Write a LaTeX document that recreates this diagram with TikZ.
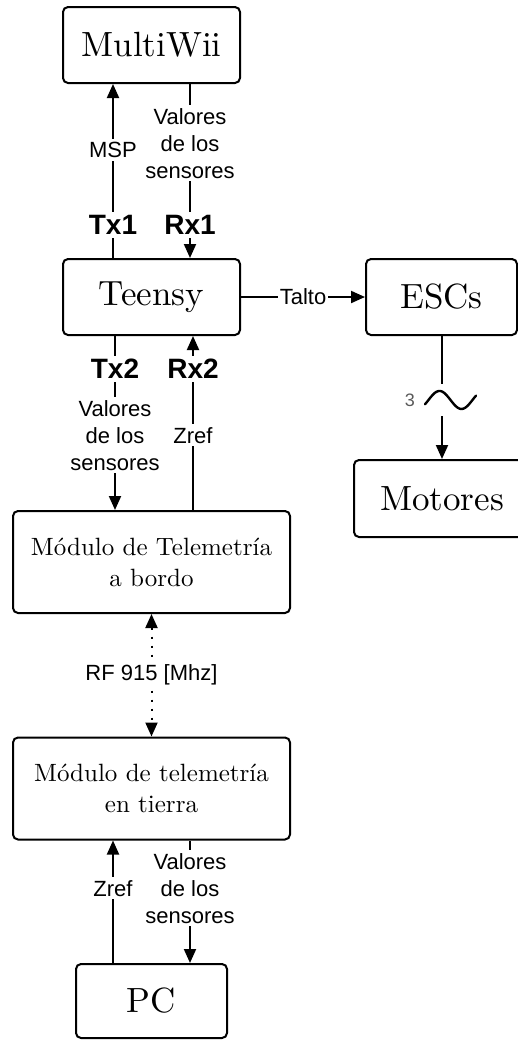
\documentclass[tikz,border=0pt]{standalone}
\usepackage{fontspec}
\setsansfont{Liberation Sans}
\newfontfamily\blockfont{lmroman10-regular}[Extension=.otf]
\usetikzlibrary{arrows.meta, positioning}

\tikzset{
    block/.style={draw, line width=1pt, rounded corners=2.5pt, fill=white,
        font=\blockfont\fontsize{17.5}{20}\selectfont, minimum width=88.5pt,
        minimum height=38pt, inner sep=2pt},
    wideblock/.style={block, font=\blockfont\fontsize{12.5}{15.5}\selectfont, align=center,
        minimum width=138.5pt, minimum height=51pt},
    link/.style={line width=1pt, -{Triangle[length=7pt,width=6pt]}},
    radio/.style={line width=1pt, dash pattern=on 1pt off 3.5pt,
        {Triangle[length=7pt,width=6pt]}-{Triangle[length=7pt,width=6pt]}},
    lbl/.style={fill=white, font=\sffamily\fontsize{11}{13.5}\selectfont,
        align=center, inner sep=1.5pt},
    portlbl/.style={fill=white, font=\sffamily\bfseries\fontsize{14}{16}\selectfont,
        inner sep=1.5pt},
}

\begin{document}
\begin{tikzpicture}[x=0.5pt, y=-0.5pt]

    \useasboundingbox (0,0) rectangle (518,1040);

    % === Blocks ===
    \node[block] (multiwii) at (151.5,45) {MultiWii};
    \node[block] (teensy) at (151.5,297) {Teensy};
    \node[block, minimum width=75.5pt] (escs) at (441.5,297) {ESCs};
    \node[block, minimum width=88pt, minimum height=38.5pt] (motores) at (442,498.5) {Motores};
    \node[wideblock] (abordo) at (151.5,562) {Módulo de Telemetría\\a bordo};
    \node[wideblock] (tierra) at (151.5,788.5) {Módulo de telemetría\\en tierra};
    \node[block, minimum width=75.5pt, minimum height=37pt] (pc) at (151.5,1001) {PC};

    % === MultiWii <-> Teensy ===
    \draw[link] ([xshift=-19.25pt]teensy.north) --
        node[portlbl, pos=0.19] {Tx1}
        node[lbl, pos=0.62] {MSP} ([xshift=-19.25pt]multiwii.south);
    \draw[link] ([xshift=19.25pt]multiwii.south) --
        node[lbl, pos=0.34] {Valores\\de los\\sensores}
        node[portlbl, pos=0.81] {Rx1} ([xshift=19.25pt]teensy.north);

    % === Teensy <-> modulo a bordo ===
    \draw[link] ([xshift=-18.25pt]teensy.south) --
        node[portlbl, pos=0.19] {Tx2}
        node[lbl, pos=0.57] {Valores\\de los\\sensores} ([xshift=-18.25pt]abordo.north);
    \draw[link] ([xshift=20.75pt]abordo.north) --
        node[lbl, pos=0.43] {Zref}
        node[portlbl, pos=0.81] {Rx2} ([xshift=20.75pt]teensy.south);

    % === Teensy -> ESCs -> Motores ===
    \draw[link] (teensy) -- node[lbl, inner sep=1pt] {Talto} (escs);
    \draw[link] (escs.south -| motores.north) --
        node[fill=white, inner sep=0pt, minimum width=4pt, minimum height=16pt, pos=0.52] (ac) {}
        (motores.north);
    % three-phase sign
    \node[font=\sffamily\fontsize{9}{9}\selectfont, text=black!65] at ([xshift=-16pt]ac.center) {3};
    \begin{scope}[shift={(ac.center)}, x=1pt, y=1pt]
        \draw[line width=1.2pt, line cap=round] plot[domain=-0.16:2.16, samples=60, smooth]
            ({4.25+(\x-1)*11}, {4.5*sin(\x*180)});
    \end{scope}

    % === Radio link ===
    \draw[radio] (abordo) -- node[lbl] {RF 915 [Mhz]} (tierra);

    % === Modulo en tierra <-> PC ===
    \draw[link] ([xshift=-19.25pt]pc.north) --
        node[lbl, pos=0.61] {Zref} ([xshift=-19.25pt]tierra.south);
    \draw[link] ([xshift=19.25pt]tierra.south) --
        node[lbl, pos=0.39] {Valores\\de los\\sensores} ([xshift=19.25pt]pc.north);

\end{tikzpicture}
\end{document}
